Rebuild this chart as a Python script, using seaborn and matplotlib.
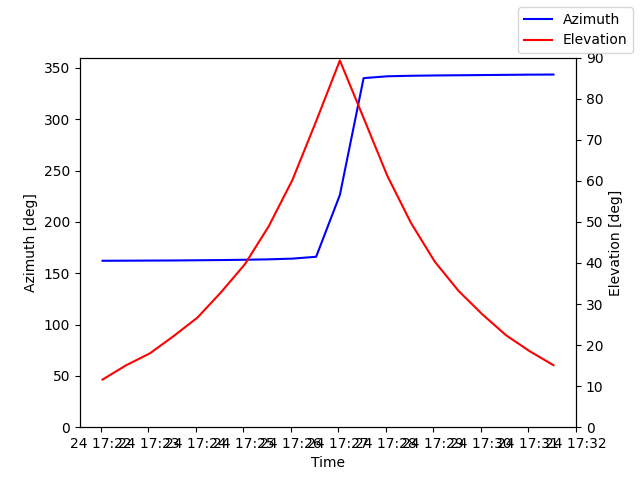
import matplotlib

matplotlib.use("Agg")

import matplotlib.pyplot as plt
import pandas as pd
import seaborn as sns

# sample times, one every 30 s
times = pd.date_range("2024-01-24 17:22:02", periods=20, freq="30s")

azimuth = [162.1, 162.2, 162.3, 162.4, 162.6, 162.8, 163.1, 163.5, 164.2, 166.0,
           226.2, 340.0, 341.8, 342.3, 342.6, 342.8, 343.0, 343.2, 343.4, 343.5]
elevation = [11.6, 15.1, 18.0, 22.2, 26.7, 32.9, 39.7, 48.9, 60.2, 74.5,
             89.3, 75.3, 61.2, 49.7, 40.3, 33.2, 27.5, 22.4, 18.5, 15.1]

df = pd.DataFrame({"time": times, "azimuth": azimuth, "elevation": elevation})

fig, ax1 = plt.subplots(figsize=(6.4, 4.8), dpi=100)
ax2 = ax1.twinx()

sns.lineplot(data=df, x="time", y="azimuth", ax=ax1, color="blue", label="Azimuth", legend=False)
sns.lineplot(data=df, x="time", y="elevation", ax=ax2, color="red", label="Elevation", legend=False)

ax1.set_ylim(0, 360)
ax2.set_ylim(0, 90)
ax1.set_xlabel("Time")
ax1.set_ylabel("Azimuth [deg]")
ax2.set_ylabel("Elevation [deg]")

fig.legend(loc="upper right")
fig.savefig("out.png", dpi=100)
